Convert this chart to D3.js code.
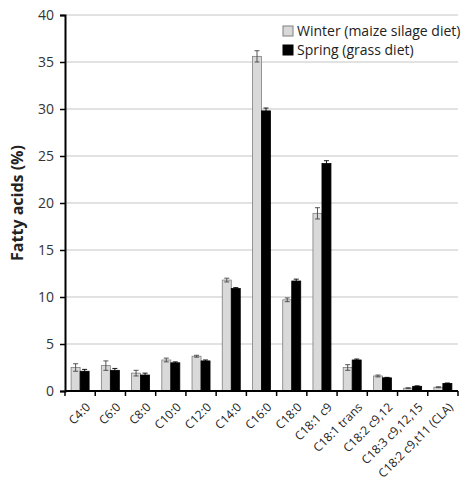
<!DOCTYPE html>
<html>
<head>
<meta charset="utf-8">
<script src="https://cdn.jsdelivr.net/npm/d3@7"></script>
<style>
  body { margin: 0; background: #fff; }
  svg { font-family: "Open Sans", sans-serif; }
</style>
</head>
<body>
<svg id="chart" width="466" height="482"></svg>
<script>
var categories = ["C4:0", "C6:0", "C8:0", "C10:0", "C12:0", "C14:0", "C16:0", "C18:0",
  "C18:1 c9", "C18:1 trans", "C18:2 c9,12", "C18:3 c9,12,15", "C18:2 c9,t11 (CLA)"];
var winter = [2.5, 2.7, 1.9, 3.3, 3.7, 11.8, 35.6, 9.7, 18.9, 2.5, 1.6, 0.3, 0.4];
var winterErr = [0.4, 0.5, 0.3, 0.2, 0.1, 0.2, 0.6, 0.2, 0.6, 0.3, 0.1, 0.05, 0.05];
var spring = [2.1, 2.2, 1.7, 3.0, 3.2, 10.9, 29.8, 11.7, 24.2, 3.3, 1.4, 0.5, 0.8];
var springErr = [0.2, 0.2, 0.2, 0.1, 0.1, 0.1, 0.3, 0.2, 0.3, 0.1, 0.05, 0.05, 0.05];
var yTicks = [0, 5, 10, 15, 20, 25, 30, 35, 40];
var seriesNames = ["Winter (maize silage diet)", "Spring (grass diet)"];

var svg = d3.select("#chart");
var plotLeft = 65, plotRight = 458, plotTop = 15, plotBottom = 391;

var x = d3.scaleBand().domain(categories).range([plotLeft, plotRight]).paddingInner(0).paddingOuter(0);
var y = d3.scaleLinear().domain([0, 40]).range([plotBottom, plotTop]);

// gridlines
svg.append("g").selectAll("line").data(yTicks.slice(1)).enter().append("line")
  .attr("x1", plotLeft).attr("x2", plotRight)
  .attr("y1", function(d) { return y(d); }).attr("y2", function(d) { return y(d); })
  .style("stroke", "#d9d9d9").style("stroke-width", 1.3);

var barW = 9;
var series = [
  { vals: winter, err: winterErr, fill: "#d9d9d9", stroke: "#7f7f7f", off: -barW },
  { vals: spring, err: springErr, fill: "#000", stroke: "#000", off: 0 }
];

series.forEach(function(s) {
  var g = svg.append("g");
  g.selectAll("rect").data(s.vals).enter().append("rect")
    .attr("x", function(d, i) { return x(categories[i]) + x.bandwidth() / 2 + s.off; })
    .attr("y", function(d) { return y(d); })
    .attr("width", barW)
    .attr("height", function(d) { return y(0) - y(d); })
    .style("fill", s.fill).style("stroke", s.stroke).style("stroke-width", 0.8);
  var eb = g.selectAll("g.err").data(s.vals).enter().append("g");
  eb.each(function(d, i) {
    var cx = x(categories[i]) + x.bandwidth() / 2 + s.off + barW / 2;
    var e = s.err[i];
    var el = d3.select(this);
    el.append("line").attr("x1", cx).attr("x2", cx)
      .attr("y1", y(d - e)).attr("y2", y(d + e));
    el.append("line").attr("x1", cx - 2.5).attr("x2", cx + 2.5)
      .attr("y1", y(d + e)).attr("y2", y(d + e));
    el.append("line").attr("x1", cx - 2.5).attr("x2", cx + 2.5)
      .attr("y1", y(d - e)).attr("y2", y(d - e));
    el.selectAll("line").style("stroke", s.fill === "#000" ? "#000" : "#444").style("stroke-width", 0.9);
  });
});

// y axis
var yAxis = svg.append("g").attr("transform", "translate(" + plotLeft + ",0)")
  .call(d3.axisLeft(y).tickValues(yTicks).tickSize(5).tickPadding(6));
yAxis.select(".domain").style("stroke-width", 2);
yAxis.selectAll(".tick line").style("stroke-width", 1.5);
yAxis.selectAll("text").style("font-size", "14px").style("fill", "#333").style("font-family", "Open Sans, sans-serif");

// x axis
var xAxis = svg.append("g").attr("transform", "translate(0," + plotBottom + ")")
  .call(d3.axisBottom(x).tickSize(0).tickFormat(""));
xAxis.select(".domain").style("stroke-width", 2).attr("d", "M" + plotLeft + ",0H" + plotRight);
svg.append("g").selectAll("line").data(d3.range(categories.length + 1)).enter().append("line")
  .attr("x1", function(i) { return plotLeft + i * x.bandwidth(); })
  .attr("x2", function(i) { return plotLeft + i * x.bandwidth(); })
  .attr("y1", plotBottom).attr("y2", plotBottom + 5)
  .style("stroke", "#000").style("stroke-width", 1.5);

svg.append("g").selectAll("text").data(categories).enter().append("text")
  .attr("transform", function(d) {
    return "translate(" + (x(d) + x.bandwidth() / 2 + 5) + "," + (plotBottom + 11) + ") rotate(-45)";
  })
  .attr("text-anchor", "end")
  .attr("dy", "0.7em")
  .style("font-size", "12px").style("fill", "#222")
  .text(function(d) { return d; });

// y label
svg.append("text")
  .attr("transform", "translate(23,203) rotate(-90)")
  .attr("text-anchor", "middle")
  .style("font-size", "16px").style("font-weight", "bold").style("fill", "#222")
  .text("Fatty acids (%)");

// legend
var lg = svg.append("g").attr("transform", "translate(283,26)");
seriesNames.forEach(function(n, i) {
  lg.append("rect").attr("x", 0).attr("y", i * 19).attr("width", 10).attr("height", 10)
    .style("fill", series[i].fill).style("stroke", series[i].stroke);
  lg.append("text").attr("x", 14).attr("y", i * 19 + 10)
    .style("font-size", "14px").style("fill", "#222").text(n);
});
</script>
</body>
</html>
